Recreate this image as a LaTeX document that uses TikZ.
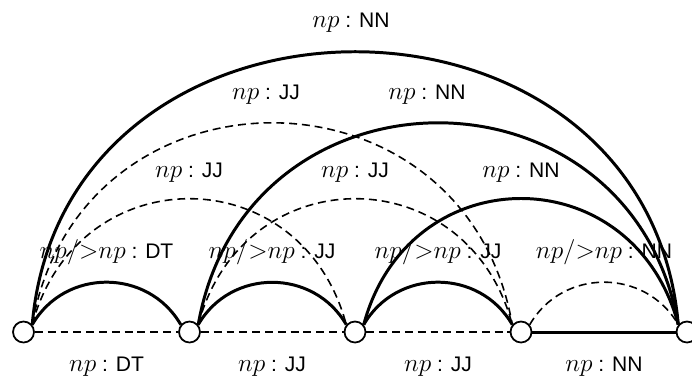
\documentclass[tikz,border=0pt]{standalone}
\usepackage{fontspec}
\setmainfont{Liberation Sans}
\usetikzlibrary{positioning}
\newcommand{\catm}[1]{{\fontsize{14.4}{16}\selectfont$#1$}}

\begin{document}
\begin{tikzpicture}[x=0.02cm, y=0.02cm,
    vtx/.style={circle, draw, line width=1pt, fill=white,
                minimum size=0.42cm, inner sep=0pt},
    lbl/.style={font=\fontsize{12}{14}\selectfont, inner sep=1pt},
    full/.style={line width=1.7pt},
    broken/.style={line width=0.9pt, dash pattern=on 4.5pt off 2.8pt},
    spanA/.style={out=60, in=120, looseness=1.13},
    spanB/.style={out=75, in=105, looseness=1.42},
    spanC/.style={out=80, in=100, looseness=1.46},
    spanD/.style={out=85, in=95,  looseness=1.45}
  ]
  \useasboundingbox (0,0) rectangle (692,383);

  % Vertices
  \foreach \i/\x in {0/23.5, 1/189.5, 2/355, 3/521, 4/687}
    \node[vtx] (n\i) at (\x, 51) {};

  % Base edges
  \draw[broken] (n0) -- (n1);
  \draw[broken] (n1) -- (n2);
  \draw[broken] (n2) -- (n3);
  \draw[full] (n3) -- (n4);
  \foreach \i/\x/\t in {0/106.5/DT, 1/272/JJ, 2/438/JJ, 3/604/NN}
    \node[lbl] (b\i) at (\x, 16) {\catm{np} : \t};

  % Span one
  \draw[full] (n0.40) to[spanA] (n1.140);
  \draw[full] (n1.40) to[spanA] (n2.140);
  \draw[full] (n2.40) to[spanA] (n3.140);
  \draw[broken] (n3.40) to[spanA] (n4.140);
  \foreach \i/\x/\t in {0/106.5/DT, 1/272/JJ, 2/438/JJ, 3/604/NN}
    \node[lbl] (a\i) at (\x, 131) {\catm{np/{>}np} : \t};

  % Span two
  \draw[broken] (n0.40) to[spanB] (n2.140);
  \draw[broken] (n1.40) to[spanB] (n3.140);
  \draw[full] (n2.40) to[spanB] (n4.140);
  \foreach \i/\x/\t in {0/189/JJ, 1/355/JJ, 2/521/NN}
    \node[lbl] (c\i) at (\x, 210.5) {\catm{np} : \t};

  % Span three
  \draw[broken] (n0.40) to[spanC] (n3.140);
  \draw[full] (n1.40) to[spanC] (n4.140);
  \node[lbl] (d0) at (266, 288) {\catm{np} : JJ};
  \node[lbl] (d1) at (427, 288) {\catm{np} : NN};

  % Whole span
  \draw[full] (n0.40) to[spanD] (n4.140);
  \node[lbl] (e0) at (351, 360) {\catm{np} : NN};
\end{tikzpicture}
\end{document}
